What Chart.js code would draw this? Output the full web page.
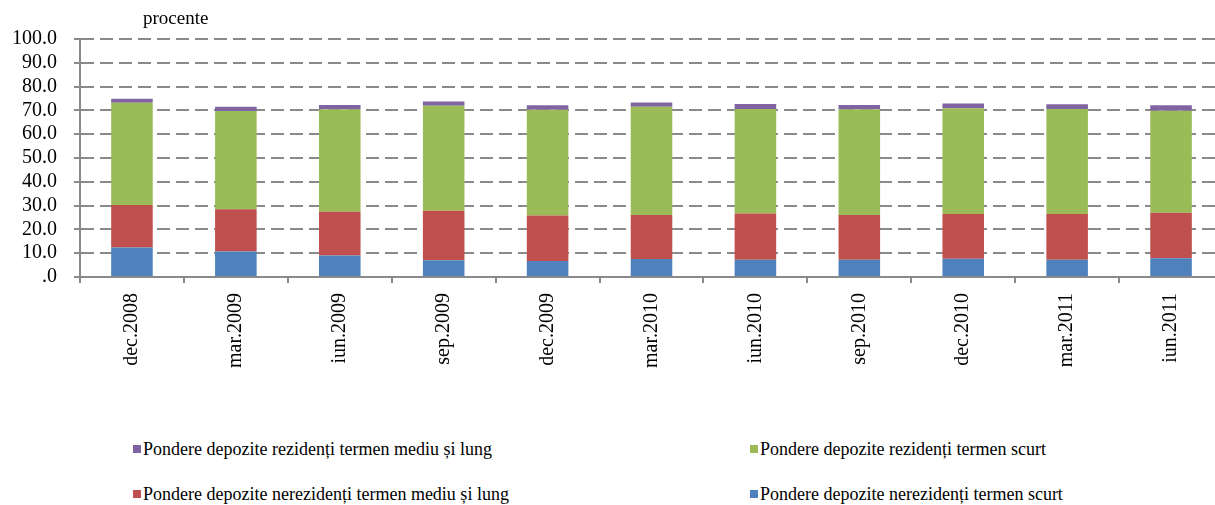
<!DOCTYPE html>
<html>
<head>
<meta charset="utf-8">
<script src="https://cdn.jsdelivr.net/npm/chart.js@4.4.1/dist/chart.umd.min.js"></script>
<style>
  html, body { margin: 0; padding: 0; background: #fff; overflow: hidden; width: 1215px; height: 505px; }
  #wrap { position: relative; width: 1225px; height: 505px; }
  #c { position: absolute; left: 0; top: 0; }
  .lg { position: absolute; font-family: "Liberation Serif", "Times New Roman", serif; font-size: 18px; color: #000; white-space: nowrap; line-height: 20px; }
  .lg span.sw { display: inline-block; width: 8px; height: 8px; margin-right: 2px; vertical-align: 2px; }
</style>
</head>
<body>
<div id="wrap">
  <canvas id="c" width="1225" height="420"></canvas>
</div>
<script>
const categories = ["dec.2008","mar.2009","iun.2009","sep.2009","dec.2009","mar.2010","iun.2010","sep.2010","dec.2010","mar.2011","iun.2011"];
const nerezScurt  = [12.4, 10.7, 9.0, 7.0, 6.7, 7.6, 7.3, 7.3, 7.7, 7.3, 7.9];
const nerezMediu  = [17.9, 17.8, 18.4, 20.8, 19.1, 18.5, 19.4, 18.8, 18.8, 19.2, 19.1];
const rezScurt    = [42.9, 41.3, 43.1, 44.2, 44.5, 45.4, 43.9, 44.4, 44.4, 44.1, 42.9];
const rezMediu    = [1.7, 1.7, 1.8, 1.7, 1.9, 1.8, 2.1, 1.8, 2.0, 2.0, 2.3];
const yTicks = [0, 10, 20, 30, 40, 50, 60, 70, 80, 90, 100];
const seriesNames = {
  rezMediu: "Pondere depozite rezidenți termen mediu și lung",
  rezScurt: "Pondere depozite rezidenți termen scurt",
  nerezMediu: "Pondere depozite nerezidenți termen mediu și lung",
  nerezScurt: "Pondere depozite nerezidenți termen scurt"
};
const colors = { rezMediu: "#8064A2", rezScurt: "#9BBB59", nerezMediu: "#C0504D", nerezScurt: "#4F81BD" };

const gridColor = "#8a8a8a";
const serif = "'Liberation Serif', 'Times New Roman', serif";

const unitPlugin = {
  id: 'unitLabel',
  afterDraw(chart) {
    const ctx = chart.ctx;
    ctx.save();
    ctx.font = "19px " + serif;
    ctx.fillStyle = "#000";
    ctx.textBaseline = "middle";
    ctx.textAlign = "left";
    ctx.fillText("procente", 143, 19);
    ctx.restore();
  }
};

function ds(key, data) {
  return { label: seriesNames[key], data: data, backgroundColor: colors[key], borderWidth: 0, stack: 's' };
}

new Chart(document.getElementById('c'), {
  type: 'bar',
  data: {
    labels: categories,
    datasets: [
      ds('nerezScurt', nerezScurt),
      ds('nerezMediu', nerezMediu),
      ds('rezScurt', rezScurt),
      ds('rezMediu', rezMediu)
    ]
  },
  options: {
    responsive: false,
    animation: false,
    layout: { padding: { top: 39, right: 2, left: 0, bottom: 0 } },
    plugins: { legend: { display: false }, tooltip: { enabled: false }, title: { display: false } },
    datasets: { bar: { categoryPercentage: 1.0, barPercentage: 0.4 } },
    scales: {
      x: {
        stacked: true,
        afterFit(scale) { scale.height = 143; },
        grid: { display: true, drawOnChartArea: false, drawTicks: true, tickLength: 6, offset: true, color: gridColor, lineWidth: 2 },
        border: { display: true, color: gridColor, width: 2 },
        ticks: { minRotation: 90, maxRotation: 90, padding: 10, color: "#000", font: { family: serif, size: 20 }, autoSkip: false }
      },
      y: {
        stacked: true,
        min: 0, max: 100,
        afterFit(scale) { scale.width = 80; },
        afterBuildTicks(scale) { scale.ticks = yTicks.map(v => ({ value: v })); },
        grid: { color: gridColor, lineWidth: 2, tickLength: 6, tickColor: gridColor, tickWidth: 2, tickBorderDash: [0, 0], drawTicks: true },
        border: { display: true, color: gridColor, width: 2, dash: [13, 6] },
        ticks: {
          autoSkip: false,
          padding: 17, color: "#000", font: { family: serif, size: 20 },
          callback: v => v === 0 ? ".0" : Number(v).toFixed(1)
        }
      }
    }
  },
  plugins: [unitPlugin]
});

// legend (HTML, from the series names)
const legendItems = [
  { key: 'rezMediu', left: 133, top: 439 },
  { key: 'rezScurt', left: 750, top: 439 },
  { key: 'nerezMediu', left: 133, top: 484 },
  { key: 'nerezScurt', left: 750, top: 484 }
];
const wrap = document.getElementById('wrap');
legendItems.forEach(it => {
  const d = document.createElement('div');
  d.className = 'lg';
  d.style.left = it.left + 'px';
  d.style.top = it.top + 'px';
  const sw = document.createElement('span');
  sw.className = 'sw';
  sw.style.background = colors[it.key];
  d.appendChild(sw);
  d.appendChild(document.createTextNode(seriesNames[it.key]));
  wrap.appendChild(d);
});
</script>
</body>
</html>
